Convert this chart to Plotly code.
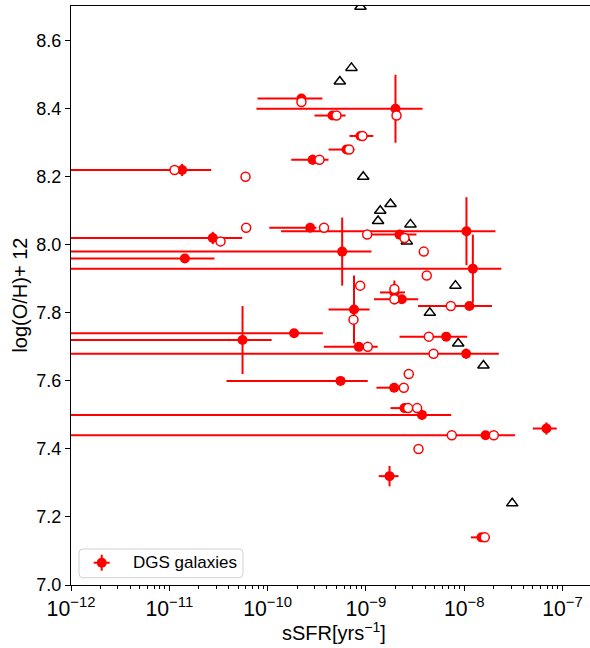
import plotly.graph_objects as go

# DGS galaxies: specific SFR [yr^-1] with error-bar bounds, metallicity with error
dgs_ssfr = [2.21e-10, 2.0e-9, 4.57e-10, 8.81e-10, 6.35e-10, 2.87e-10, 1.35e-11,
            2.77e-11, 1.44e-11, 5.74e-10, 1.225e-8, 1.055e-8, 2.71e-10, 2.20e-9,
            1.13e-8, 7.57e-10, 8.48e-10, 1.95e-9, 2.32e-9, 1.86e-10, 5.56e-11,
            1.047e-8, 6.56e-9, 5.52e-10, 1.94e-9, 2.47e-9, 3.72e-9, 1.65e-8,
            6.87e-8, 1.74e-9, 1.50e-8]
dgs_ssfr_lo = [7.9e-11, 7.7e-11, 3.0e-10, 6.81e-10, 4.17e-10, 1.74e-10, 5e-13,
               5e-13, 5e-13, 5e-13, 5e-13, 1.37e-10, 1.04e-10, 1.14e-9,
               3.39e-9, 4.17e-10, 3.73e-10, 1.39e-9, 1.21e-9, 5e-13, 5e-13,
               5e-13, 2.20e-9, 3.82e-11, 1.28e-9, 1.78e-9, 5e-13, 5e-13,
               4.99e-8, 1.35e-9, 1.17e-8]
dgs_ssfr_hi = [3.61e-10, 3.77e-9, 6.21e-10, 1.19e-9, 7.66e-10, 4.17e-10, 2.67e-11,
               5.52e-11, 2.88e-11, 1.14e-9, 2.39e-8, 2.08e-8, 3.14e-10, 3.27e-9,
               1.92e-8, 1.09e-9, 1.32e-9, 2.50e-9, 3.40e-9, 3.65e-10, 1.10e-10,
               2.25e-8, 1.075e-8, 1.045e-9, 2.6e-9, 3.16e-9, 7.38e-9, 3.30e-8,
               8.75e-8, 2.15e-9, 1.83e-8]
dgs_oh = [8.43, 8.40, 8.38, 8.32, 8.28, 8.25, 8.22,
          8.02, 7.96, 7.98, 7.93, 8.04, 8.05, 8.03,
          7.82, 7.81, 7.70, 7.86, 7.84, 7.74, 7.72,
          7.68, 7.73, 7.60, 7.58, 7.52, 7.50, 7.44,
          7.46, 7.32, 7.14]
dgs_oh_err = [0.01, 0.10, 0.01, 0.01, 0.01, 0.015, 0.018,
              0.018, 0.005, 0.10, 0.10, 0.10, 0.005, 0.005,
              0.005, 0.10, 0.005, 0.035, 0.005, 0.005, 0.10,
              0.015, 0.005, 0.005, 0.005, 0.005, 0.015, 0.005,
              0.018, 0.03, 0.005]

# alternative estimates (open circles)
alt_ssfr = [2.21e-10, 2.05e-9, 5.02e-10, 9.23e-10, 6.76e-10, 3.37e-10, 1.13e-11,
            5.96e-11, 6.05e-11, 3.75e-10, 3.32e-11, 1.03e-9, 2.47e-9, 3.88e-9,
            4.16e-9, 8.75e-10, 1.95e-9, 1.95e-9, 7.31e-9, 7.48e-10, 1.045e-9,
            4.37e-9, 4.88e-9, 2.73e-9, 2.43e-9, 2.69e-9, 3.32e-9, 7.48e-9,
            2.0e-8, 3.43e-9, 1.62e-8]
alt_oh = [8.42, 8.38, 8.38, 8.32, 8.28, 8.25, 8.22,
          8.20, 8.05, 8.05, 8.01, 8.03, 8.02, 7.98,
          7.91, 7.88, 7.87, 7.84, 7.82, 7.78, 7.70,
          7.73, 7.68, 7.62, 7.58, 7.52, 7.52, 7.44,
          7.44, 7.40, 7.14]

# comparison sample (open triangles)
cmp_ssfr = [8.81e-10, 7.13e-10, 5.43e-10, 9.40e-10, 1.40e-9, 1.78e-9, 1.33e-9,
            2.84e-9, 2.61e-9, 8.15e-9, 4.47e-9, 8.69e-9, 1.57e-8, 3.08e-8]
cmp_oh = [8.70, 8.52, 8.48, 8.20, 8.10, 8.12, 8.07,
          8.06, 8.01, 7.88, 7.80, 7.71, 7.645, 7.24]

FONT = "Liberation Sans, Arial, sans-serif"
RED = "#ff0000"

err_plus = [h - x for x, h in zip(dgs_ssfr, dgs_ssfr_hi)]
err_minus = [x - l for x, l in zip(dgs_ssfr, dgs_ssfr_lo)]

fig = go.Figure()

fig.add_trace(go.Scatter(
    x=cmp_ssfr, y=cmp_oh, mode="markers",
    marker=dict(symbol="triangle-up-open", size=10, color="black",
                line=dict(width=1.5, color="black")),
    showlegend=False, hoverinfo="x+y"))

fig.add_trace(go.Scatter(
    x=dgs_ssfr, y=dgs_oh, mode="markers", name="DGS galaxies",
    marker=dict(symbol="circle", size=10, color=RED, line=dict(width=0)),
    error_x=dict(type="data", symmetric=False, array=err_plus,
                 arrayminus=err_minus, color=RED, thickness=2, width=0),
    error_y=dict(type="data", array=dgs_oh_err, color=RED, thickness=2, width=0),
    showlegend=False))

fig.add_trace(go.Scatter(
    x=alt_ssfr, y=alt_oh, mode="markers",
    marker=dict(symbol="circle", size=9, color="white",
                line=dict(width=1.5, color=RED)),
    showlegend=False))

# legend handle: marker with error cross on an overlay axis in [0, 1]
fig.add_trace(go.Scatter(
    x=[0.0592], y=[0.0385], mode="markers", xaxis="x2", yaxis="y2",
    marker=dict(symbol="circle", size=10, color=RED),
    error_x=dict(type="constant", value=0.0154, color=RED, thickness=2, width=0),
    error_y=dict(type="constant", value=0.0138, color=RED, thickness=2, width=0),
    showlegend=False, hoverinfo="skip"))

# rounded legend frame
x0, x1, y0, y1 = 0.0154, 0.3314, 0.0126, 0.0622
rx, ry = 0.0077, 0.0069
frame = (f"M{x0+rx},{y0} L{x1-rx},{y0} Q{x1},{y0} {x1},{y0+ry} "
         f"L{x1},{y1-ry} Q{x1},{y1} {x1-rx},{y1} L{x0+rx},{y1} "
         f"Q{x0},{y1} {x0},{y1-ry} L{x0},{y0+ry} Q{x0},{y0} {x0+rx},{y0} Z")
fig.add_shape(type="path", path=frame, xref="paper", yref="paper",
              line=dict(color="#d0d0d0", width=1),
              fillcolor="rgba(255,255,255,0.8)", layer="below")

fig.add_annotation(text="DGS galaxies", xref="paper", yref="paper",
                   x=0.115, y=0.0385, xanchor="left", yanchor="middle",
                   showarrow=False, font=dict(family=FONT, size=17, color="black"))

fig.add_annotation(text="sSFR[yrs<sup>−1</sup>]", xref="paper", yref="paper",
                   x=0.507, y=-0.081, xanchor="center", yanchor="middle",
                   showarrow=False, font=dict(family=FONT, size=20, color="black"))
fig.add_annotation(text="log(O/H)+ 12", xref="paper", yref="paper",
                   x=-0.1, y=0.5, xanchor="center", yanchor="middle",
                   textangle=-90, showarrow=False,
                   font=dict(family=FONT, size=20, color="black"))

fig.update_layout(
    width=590, height=648,
    margin=dict(l=71, r=0, t=6, b=63),
    paper_bgcolor="white", plot_bgcolor="white",
    font=dict(family=FONT, size=17, color="black"),
    xaxis=dict(type="log", range=[-12, -6.72], dtick=1, exponentformat="power",
               showline=True, linecolor="black", linewidth=1, mirror=True,
               ticks="outside", ticklen=5, tickwidth=1, tickcolor="black",
               minor=dict(ticks="outside", ticklen=3, tickwidth=1,
                          tickcolor="black", dtick="D1", showgrid=False),
               showgrid=False, zeroline=False,
               tickfont=dict(family=FONT, size=17)),
    yaxis=dict(range=[7.0, 8.702], dtick=0.2, tick0=7.0, tickformat=".1f",
               showline=True, linecolor="black", linewidth=1, mirror=False,
               ticks="outside", ticklen=5, tickwidth=1, tickcolor="black",
               showgrid=False, zeroline=False,
               tickfont=dict(family=FONT, size=18)),
    xaxis2=dict(overlaying="x", range=[0, 1], visible=False, fixedrange=True),
    yaxis2=dict(overlaying="y", range=[0, 1], visible=False, fixedrange=True),
    showlegend=False,
)

fig.write_html("out.html")
